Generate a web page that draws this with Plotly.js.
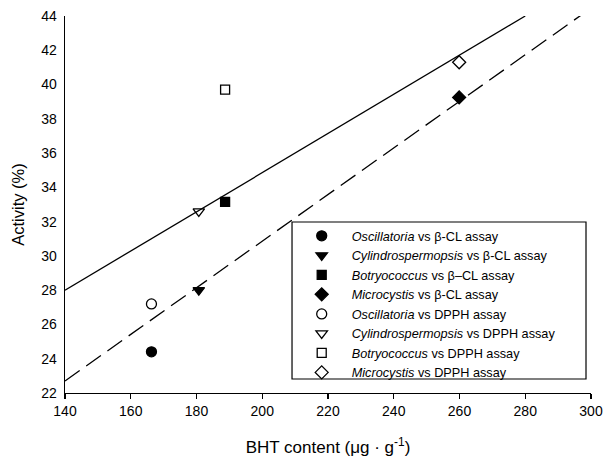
<!DOCTYPE html>
<html>
<head>
<meta charset="utf-8">
<script src="https://cdn.plot.ly/plotly-3.0.1.min.js"></script>
<style>html,body{margin:0;padding:0;background:#fff}#chart{width:611px;height:460px}</style>
</head>
<body>
<div id="chart"></div>
<script>
// Data
const seriesNames = [
  "<i>Oscillatoria</i> vs β-CL assay",
  "<i>Cylindrospermopsis</i> vs β-CL assay",
  "<i>Botryococcus</i> vs β–CL assay",
  "<i>Microcystis</i> vs β-CL assay",
  "<i>Oscillatoria</i> vs DPPH assay",
  "<i>Cylindrospermopsis</i> vs DPPH assay",
  "<i>Botryococcus</i> vs DPPH assay",
  "<i>Microcystis</i> vs DPPH assay"
];
const bhtX = [166.3, 180.7, 188.7, 259.9, 166.3, 180.7, 188.7, 259.9];
const activityY = [24.4, 28.0, 33.15, 39.25, 27.2, 32.6, 39.7, 41.3];
const symbols = ["circle", "triangle-down", "square", "diamond",
                 "circle-open", "triangle-down-open", "square-open", "diamond-open"];

// Fitted lines (end points)
const solidLineX = [140, 280];
const solidLineY = [28.0, 44.0];
const dashedLineX = [140, 300];
const dashedLineY = [22.7, 44.46];

const traces = [];
for (let i = 0; i < seriesNames.length; i++) {
  traces.push({
    x: [bhtX[i]], y: [activityY[i]],
    type: "scatter", mode: "markers",
    name: seriesNames[i],
    marker: {symbol: symbols[i], size: i % 4 === 2 ? 9 : 10, color: "#000",
             line: {color: "#000", width: 1.3}},
    cliponaxis: false
  });
}
traces.push({x: solidLineX, y: solidLineY, type: "scatter", mode: "lines",
  line: {color: "#000", width: 1.3}, showlegend: false, hoverinfo: "skip"});
traces.push({x: dashedLineX, y: dashedLineY, type: "scatter", mode: "lines",
  line: {color: "#000", width: 1.3, dash: "18px,8px"}, showlegend: false, hoverinfo: "skip"});

const layout = {
  width: 611, height: 460,
  margin: {l: 65, r: 20, t: 16, b: 67},
  paper_bgcolor: "#fff", plot_bgcolor: "#fff",
  font: {family: "Liberation Sans, Arial, sans-serif", size: 14, color: "#000"},
  showlegend: true,
  xaxis: {
    range: [140, 300], dtick: 20, tick0: 140,
    showgrid: false, zeroline: false,
    showline: true, linecolor: "#000", linewidth: 1.3,
    ticks: "outside", ticklen: 5, tickcolor: "#000", tickwidth: 1.3,
    tickfont: {size: 14},
    title: {text: "BHT content (μg · g<sup>-1</sup>)", font: {size: 17}, standoff: 23}
  },
  yaxis: {
    range: [22, 44], dtick: 2,
    showgrid: false, zeroline: false,
    showline: true, linecolor: "#000", linewidth: 1.3,
    ticks: "outside", ticklen: 4, tickcolor: "rgba(0,0,0,0)", tickwidth: 1,
    tickfont: {size: 14},
    title: {text: "Activity (%)", font: {size: 16.5}, standoff: 12}
  },
  legend: {
    x: 0.431, y: 0.456, xanchor: "left", yanchor: "top",
    borderwidth: 0, bgcolor: "rgba(0,0,0,0)",
    itemwidth: 50,
    font: {size: 12.7}
  },
  shapes: [{
    type: "rect", xref: "paper", yref: "paper",
    x0: 0.4316, x1: 0.9905, y0: 0.0371, y1: 0.4536,
    line: {color: "#000", width: 1.2}, fillcolor: "#fff", layer: "below"
  }]
};
Plotly.newPlot("chart", traces, layout, {displayModeBar: false, staticPlot: true});
</script>
</body>
</html>
